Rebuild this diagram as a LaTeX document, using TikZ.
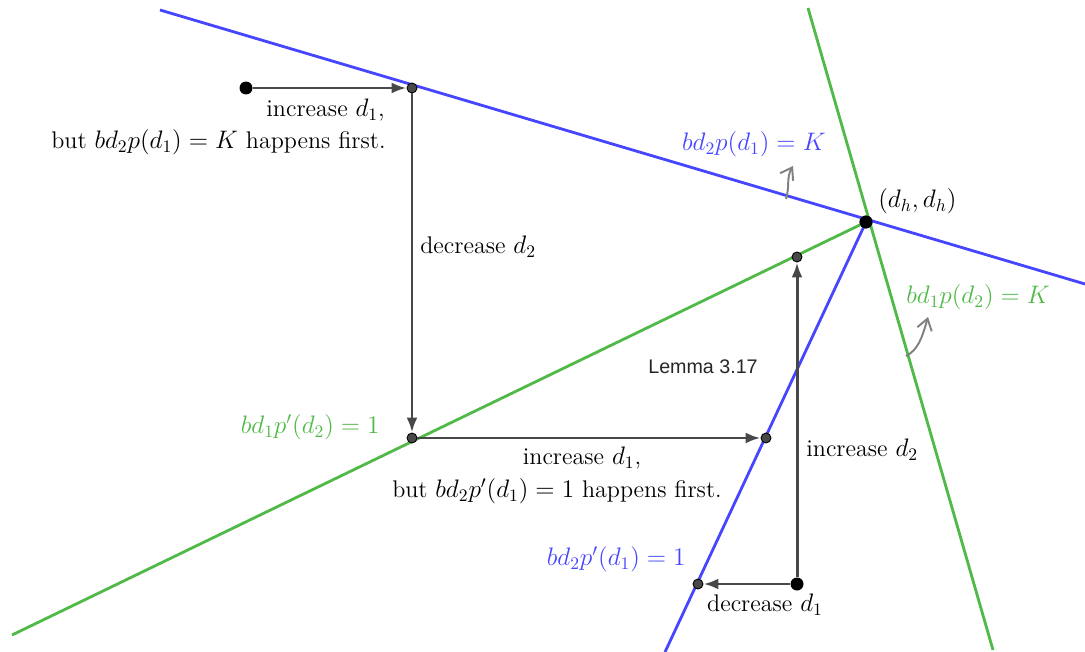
\documentclass[tikz,border=0pt]{standalone}
\usepackage{amsmath}
\usepackage{fontspec}
\newfontfamily\lemmafont{Liberation Sans}
\usepackage{tikz}
\usetikzlibrary{arrows.meta, calc}

\definecolor{ggblue}{RGB}{70,70,255}
\definecolor{gggreen}{RGB}{80,185,72}
\definecolor{ggdark}{RGB}{72,72,72}

\begin{document}
\begin{tikzpicture}[
    x=0.02cm, y=-0.02cm,
    bigdot/.style={circle, fill=black, inner sep=0pt, minimum size=0.26cm},
    smalldot/.style={circle, draw=black, fill=ggdark, line width=0.5pt, inner sep=0pt, minimum size=0.2cm},
    move/.style={-{Latex[length=3mm, width=2.2mm]}, ggdark, line width=1.7pt},
    bluel/.style={ggblue, line width=1.6pt},
    greenl/.style={gggreen, line width=1.6pt},
    hint/.style={-{Straight Barb[length=2.2mm, width=3mm]}, gray, line width=1.1pt},
    txt/.style={font=\fontsize{13.7}{16}\selectfont, inner sep=0pt}
]
\useasboundingbox (0,0) rectangle (1085,652);

% the four lines
\coordinate (b1a) at (160,10);
\coordinate (b1b) at (1085,284);
\coordinate (g1a) at (808,8);
\coordinate (g1b) at (993,650);
\coordinate (b2a) at (665,652);
\coordinate (g2a) at (12,635);

\node[bigdot] (dh) at (866,222) {};
\draw[bluel] (b1a) -- (b1b);
\draw[greenl] (g1a) -- (g1b);
\draw[bluel] (b2a) -- (dh.center);
\draw[greenl] (g2a) -- (dh.center);

% points
\node[bigdot] (start) at (246,88) {};
\node[smalldot] (p1) at (412,88) {};
\node[smalldot] (p2) at (412,438) {};
\node[smalldot] (p3) at (766,438) {};
\node[bigdot] (q0) at (797,584) {};
\node[smalldot] (q1) at (698,584) {};
\node[smalldot] (q2) at (797,257) {};
\node[bigdot] at (dh) {};

% moves
\draw[move] (start) -- (p1);
\draw[move] (p1) -- (p2);
\draw[move] (p2) -- (p3);
\draw[move] (q0) -- (q1);
\draw[move] (q0) -- (q2);

% side hints
\coordinate (h1a) at (786,199);
\coordinate (h1b) at (793,166);
\coordinate (h2a) at (906,356);
\coordinate (h2b) at (928,317);
\draw[hint] (h1a) .. controls (790,186) and (786,178) .. (h1b);
\draw[hint] (h2a) .. controls (918,350) and (922,338) .. (h2b);

% labels
\node[txt, anchor=east] (l1a) at (385,110) {increase $d_1$,};
\node[txt, anchor=east] (l1b) at (386,142) {but $bd_2p(d_1)=K$ happens first.};
\node[txt, anchor=west] (l2) at (420,247) {decrease $d_2$};
\node[txt] (l3a) at (582,458) {increase $d_1$,};
\node[txt] (l3b) at (557,491) {but $bd_2p'(d_1)=1$ happens first.};
\node[txt, anchor=west] (l4) at (806,450) {increase $d_2$};
\node[txt] (l5) at (765,605) {decrease $d_1$};
\node[font=\lemmafont\fontsize{11.2}{13}\selectfont, text=black!85, inner sep=0pt] (lem) at (703,367) {Lemma 3.17};
\node[txt, text=ggblue, anchor=east] (eqb1) at (826,144) {$bd_2p(d_1)=K$};
\node[txt, anchor=west] (eqdh) at (878,201) {$(d_h,d_h)$};
\node[txt, text=gggreen, anchor=west] (eqg1) at (906,297) {$bd_1p(d_2)=K$};
\node[txt, text=gggreen, anchor=east] (eqg2) at (380,427) {$bd_1p'(d_2)=1$};
\node[txt, text=ggblue, anchor=east] (eqb2) at (686,559) {$bd_2p'(d_1)=1$};

\end{tikzpicture}
\end{document}
